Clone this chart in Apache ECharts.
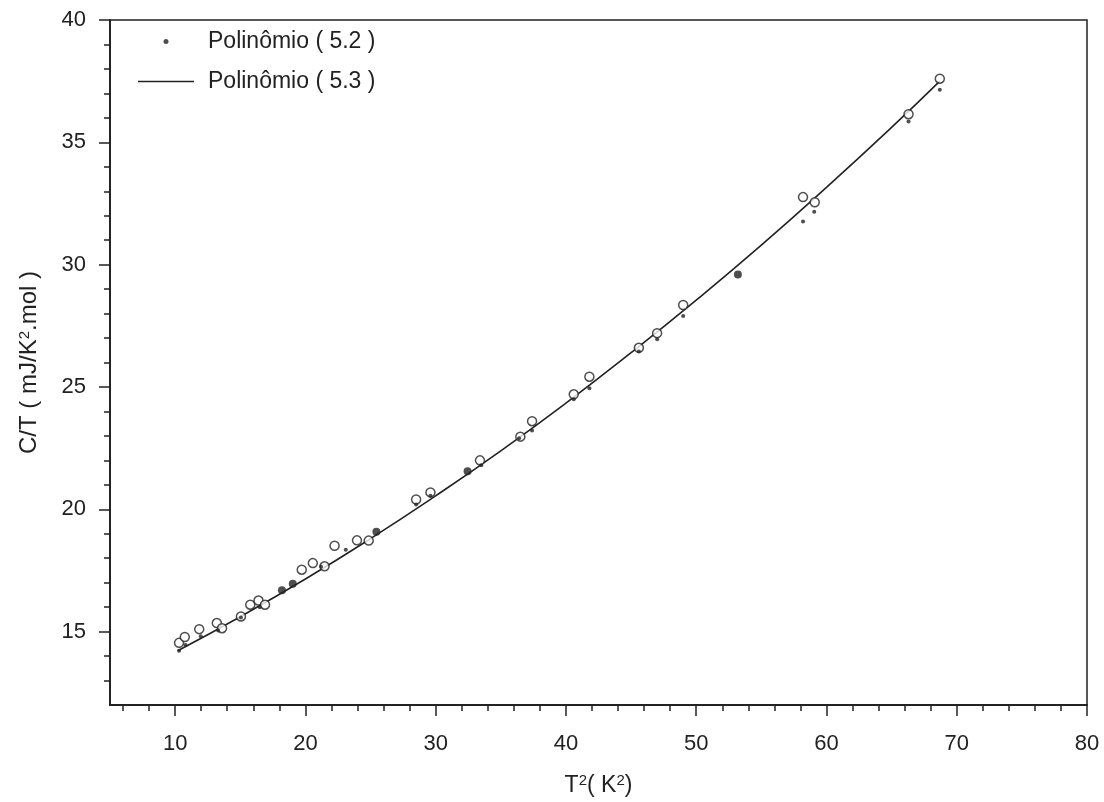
<!DOCTYPE html>
<html><head><meta charset="utf-8">
<script src="https://cdn.jsdelivr.net/npm/echarts@6/dist/echarts.min.js"></script>
<style>html,body{margin:0;padding:0;background:#fff}#c{width:1104px;height:802px}</style>
</head><body><div id="c"></div>
<script>
// Experimental points (open circles): [T^2, C/T]
const openCircles = [
  [10.3,14.54],[10.74,14.78],[11.85,15.1],[13.2,15.35],[13.6,15.14],[15.05,15.62],
  [15.77,16.1],[16.4,16.27],[16.9,16.1],[19.72,17.53],[20.57,17.8],[21.47,17.67],
  [22.24,18.51],[23.96,18.73],[24.86,18.72],[28.5,20.4],[29.6,20.69],[33.4,22.0],
  [36.5,22.97],[37.4,23.6],[40.6,24.7],[41.8,25.42],[45.6,26.6],[47.0,27.2],
  [49.0,28.35],[58.2,32.76],[59.1,32.55],[66.3,36.15],[68.7,37.6]
];
// Points where circle and dot coincide (drawn filled)
const filledPoints = [
  [18.2,16.69],[19.03,16.96],[25.45,19.08],[32.45,21.55],[53.2,29.6]
];
// Polinômio (5.2) — small dots
const poly52 = [
  [10.3,14.22],[10.8,14.45],[11.97,14.81],[13.3,15.05],[15.05,15.58],[16.5,16.0],
  [21.2,17.65],[23.1,18.35],[28.5,20.2],[29.6,20.55],[33.5,21.8],[36.4,22.9],
  [37.4,23.22],[40.6,24.5],[41.8,24.95],[45.6,26.45],[47.0,26.95],[49.0,27.9],
  [58.2,31.76],[59.06,32.16],[66.3,35.85],[68.7,37.15]
];
// Polinômio (5.3) — fitted curve
const poly53 = [
  [10.2,14.22],[15,15.61],[20,17.15],[25,18.8],[30,20.55],[35,22.39],[40,24.34],
  [45,26.4],[50,28.55],[55,30.8],[60,33.16],[65,35.61],[68.7,37.5]
];
const xMajor = [10,20,30,40,50,60,70,80];
const xMinor = [6,8,12,14,16,18,22,24,26,28,32,34,36,38,42,44,46,48,52,54,56,58,62,64,66,68,72,74,76,78];
const yMajor = [15,20,25,30,35,40];
const yMinor = [13,14,16,17,18,19,21,22,23,24,26,27,28,29,31,32,33,34,36,37,38,39];

const FONT = '"Liberation Sans", Arial, sans-serif';
const INK = '#222';
const FS = 22;
const chart = echarts.init(document.getElementById('c'));
const baseX = {type:'value', min:5, max:80, position:'bottom',
  axisLine:{show:true, lineStyle:{color:INK, width:1.5}}, splitLine:{show:false}};
const baseY = {type:'value', min:12, max:40, position:'left',
  axisLine:{show:true, lineStyle:{color:INK, width:1.5}}, splitLine:{show:false}};
const supRich = {s:{fontSize:15, verticalAlign:'top', padding:[0,0,10,0], color:INK, fontFamily:FONT}};
chart.setOption({
  animation:false,
  textStyle:{fontFamily:FONT},
  grid:{left:110, right:17, top:20, bottom:97, show:true, borderColor:INK, borderWidth:1.5, backgroundColor:'transparent'},
  legend:{
    orient:'vertical', left:138, top:30, padding:0, itemWidth:56, itemHeight:5, itemGap:17,
    textStyle:{fontFamily:FONT, fontSize:23, color:INK, padding:[0,0,0,9]},
    data:[
      {name:'Polinômio ( 5.2 )', icon:'circle', itemStyle:{color:INK}},
      {name:'Polinômio ( 5.3 )', icon:'path://M0,0 L56,0 L56,1.5 L0,1.5 Z', itemStyle:{color:INK}}
    ]
  },
  xAxis:[
    Object.assign({}, baseX, {
      name:'T{s|2}( K{s|2})', nameLocation:'middle', nameGap:68,
      nameTextStyle:{fontFamily:FONT, fontSize:23, color:INK, rich:supRich},
      axisTick:{show:true, inside:false, length:11, lineStyle:{color:INK, width:1.5}, customValues:xMajor},
      axisLabel:{show:true, margin:28, fontSize:FS, color:INK, fontFamily:FONT, customValues:xMajor}
    }),
    Object.assign({}, baseX, {
      axisTick:{show:true, inside:false, length:6, lineStyle:{color:INK, width:1.5}, customValues:xMinor},
      axisLabel:{show:false}
    })
  ],
  yAxis:[
    Object.assign({}, baseY, {
      name:'C/T ( mJ/K{s|2}.mol )', nameLocation:'middle', nameGap:68, nameRotate:90,
      nameTextStyle:{fontFamily:FONT, fontSize:24, color:INK, rich:supRich},
      axisTick:{show:true, inside:false, length:11, lineStyle:{color:INK, width:1.5}, customValues:yMajor},
      axisLabel:{show:true, margin:24, fontSize:FS, color:INK, fontFamily:FONT, customValues:yMajor}
    }),
    Object.assign({}, baseY, {
      axisTick:{show:true, inside:false, length:6, lineStyle:{color:INK, width:1.5}, customValues:yMinor},
      axisLabel:{show:false}
    })
  ],
  series:[
    {name:'Polinômio ( 5.3 )', type:'line', data:poly53, smooth:true, symbol:'none', showSymbol:false,
     lineStyle:{color:INK, width:1.6}, itemStyle:{color:INK}, z:2},
    {name:'exp', type:'scatter', data:openCircles, symbol:'circle', symbolSize:9,
     itemStyle:{color:'#fff', borderColor:INK, borderWidth:1.5}, z:3},
    {name:'filled', type:'scatter', data:filledPoints, symbol:'circle', symbolSize:8,
     itemStyle:{color:INK}, z:4},
    {name:'Polinômio ( 5.2 )', type:'scatter', data:poly52, symbol:'circle', symbolSize:4,
     itemStyle:{color:INK}, z:5}
  ]
});
</script></body></html>
